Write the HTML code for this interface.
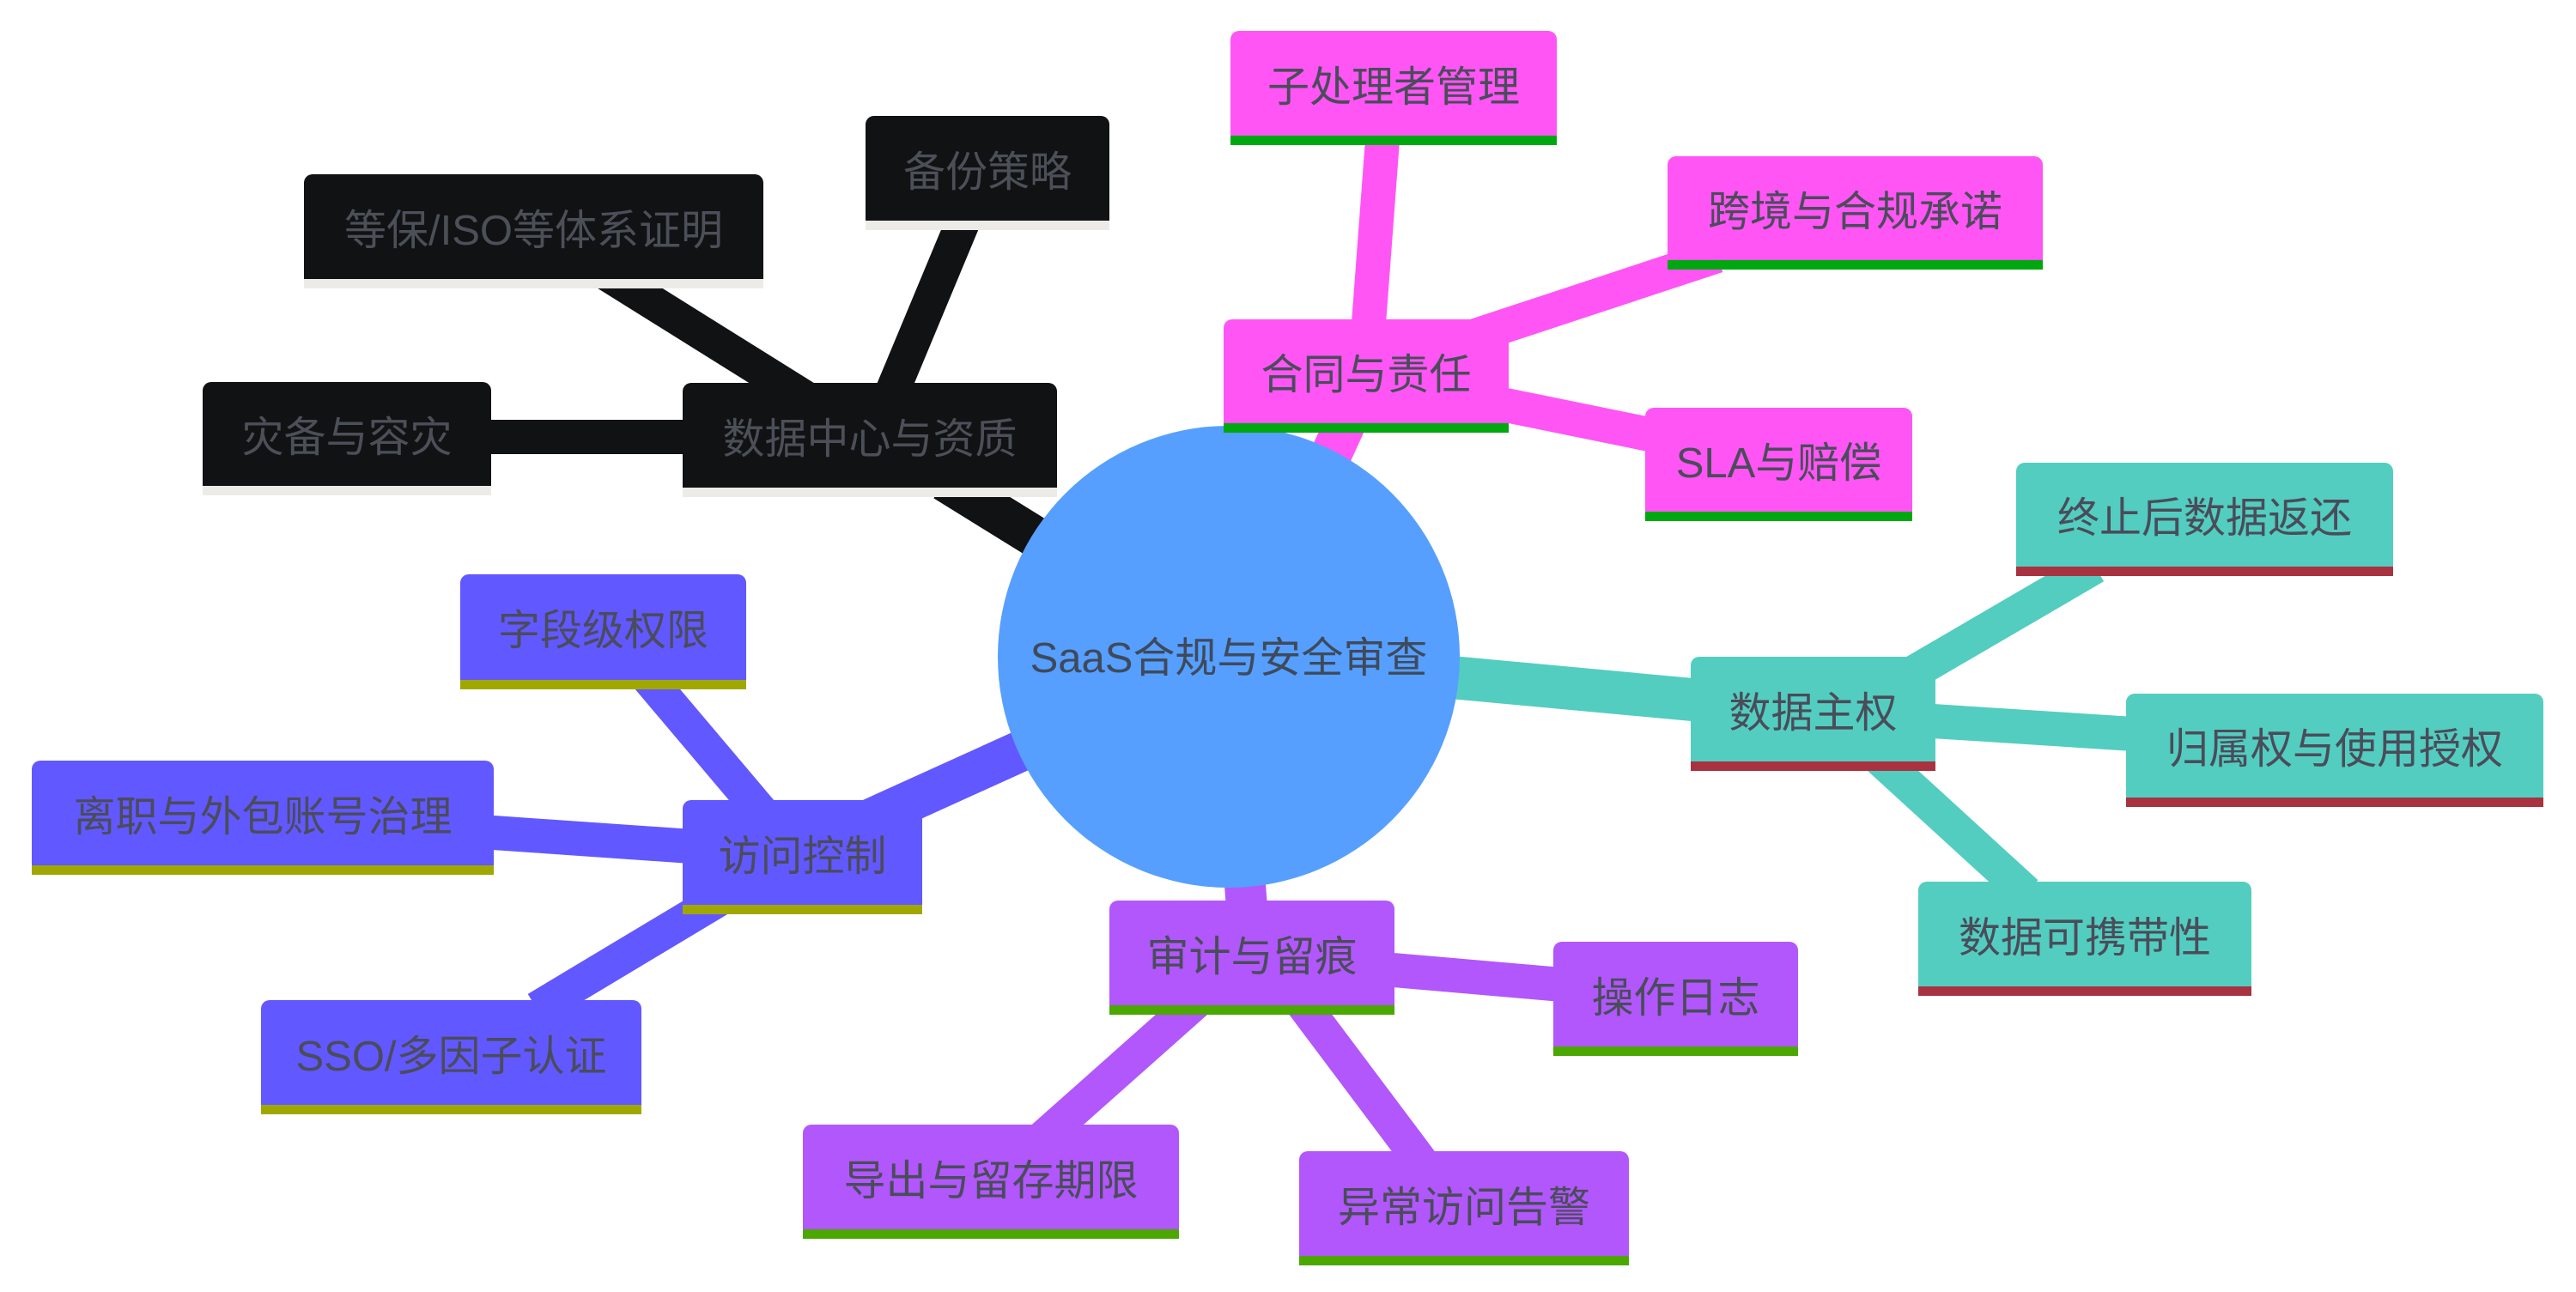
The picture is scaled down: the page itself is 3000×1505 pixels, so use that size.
<!DOCTYPE html>
<html><head><meta charset="utf-8"><style>
html,body{margin:0;padding:0;background:#fff;}
body{width:3000px;height:1505px;position:relative;overflow:hidden;font-family:"Liberation Sans","Noto Sans CJK SC",sans-serif;}
.b{position:absolute;box-sizing:border-box;border-radius:10px 10px 0 0;display:flex;align-items:center;justify-content:center;font-size:49px;color:#4a4c5a;white-space:nowrap;border-bottom:11px solid;}
.k{background:#111214;border-color:#ecebe8;color:#4b5058;}
.p{background:#ff55f5;border-color:#00a810;}
.t{background:#53cdc0;border-color:#a83240;}
.v{background:#6258ff;border-color:#a0a800;}
.u{background:#b157fb;border-color:#4aa800;}
svg{position:absolute;left:0;top:0;}
</style></head><body>
<svg width="3000" height="1505" viewBox="0 0 3000 1505">
<g stroke-linecap="butt" fill="none">
<g stroke="#111214" stroke-width="40">
<line x1="702" y1="316" x2="942" y2="466"/>
<line x1="1125" y1="250" x2="1035" y2="466"/>
<line x1="560" y1="509" x2="810" y2="509"/>
<line x1="1100" y1="560" x2="1431" y2="765" stroke-width="48"/>
</g>
<g stroke="#ff55f5" stroke-width="40">
<line x1="1611" y1="150" x2="1593" y2="390"/>
<line x1="2000" y1="298" x2="1700" y2="397"/>
<line x1="1700" y1="461" x2="1960" y2="514"/>
<line x1="1594" y1="433" x2="1500" y2="640" stroke-width="48"/>
</g>
<g stroke="#53cdc0" stroke-width="40">
<line x1="1431" y1="765" x2="2100" y2="827" stroke-width="50"/>
<line x1="2440" y1="660" x2="2200" y2="800"/>
<line x1="2220" y1="838" x2="2500" y2="856"/>
<line x1="2185" y1="880" x2="2360" y2="1040"/>
</g>
<g stroke="#6258ff" stroke-width="40">
<line x1="935" y1="990" x2="1431" y2="765" stroke-width="48"/>
<line x1="755" y1="790" x2="886" y2="945"/>
<line x1="560" y1="969" x2="820" y2="987"/>
<line x1="625" y1="1175" x2="850" y2="1040"/>
</g>
<g stroke="#b157fb" stroke-width="40">
<line x1="1431" y1="765" x2="1455" y2="1100" stroke-width="48"/>
<line x1="1600" y1="1128" x2="1830" y2="1148"/>
<line x1="1395" y1="1165" x2="1215" y2="1325"/>
<line x1="1510" y1="1160" x2="1660" y2="1360"/>
</g>
</g>
<circle cx="1431" cy="765" r="269" fill="#569ffe"/>
<text x="1431" y="783" font-size="49" fill="#3e4a5c" text-anchor="middle" font-family="Liberation Sans, Noto Sans CJK SC, sans-serif">SaaS合规与安全审查</text>
</svg>

<div class="b k" style="left:354px;top:203px;width:535px;height:133px;">等保/ISO等体系证明</div>
<div class="b k" style="left:1008px;top:135px;width:284px;height:133px;">备份策略</div>
<div class="b k" style="left:236px;top:445px;width:336px;height:132px;">灾备与容灾</div>
<div class="b k" style="left:795px;top:446px;width:436px;height:133px;">数据中心与资质</div>

<div class="b p" style="left:1433px;top:36px;width:380px;height:133px;">子处理者管理</div>
<div class="b p" style="left:1942px;top:182px;width:437px;height:132px;">跨境与合规承诺</div>
<div class="b p" style="left:1425px;top:372px;width:332px;height:132px;">合同与责任</div>
<div class="b p" style="left:1916px;top:475px;width:311px;height:132px;">SLA与赔偿</div>

<div class="b t" style="left:2348px;top:539px;width:439px;height:132px;">终止后数据返还</div>
<div class="b t" style="left:1969px;top:765px;width:285px;height:133px;">数据主权</div>
<div class="b t" style="left:2476px;top:808px;width:486px;height:132px;">归属权与使用授权</div>
<div class="b t" style="left:2234px;top:1027px;width:388px;height:133px;">数据可携带性</div>

<div class="b v" style="left:536px;top:669px;width:333px;height:134px;">字段级权限</div>
<div class="b v" style="left:37px;top:886px;width:538px;height:133px;">离职与外包账号治理</div>
<div class="b v" style="left:795px;top:932px;width:279px;height:133px;">访问控制</div>
<div class="b v" style="left:304px;top:1165px;width:443px;height:133px;">SSO/多因子认证</div>

<div class="b u" style="left:1292px;top:1049px;width:332px;height:133px;">审计与留痕</div>
<div class="b u" style="left:1809px;top:1097px;width:285px;height:133px;">操作日志</div>
<div class="b u" style="left:935px;top:1310px;width:438px;height:133px;">导出与留存期限</div>
<div class="b u" style="left:1513px;top:1341px;width:384px;height:133px;">异常访问告警</div>
</body></html>
